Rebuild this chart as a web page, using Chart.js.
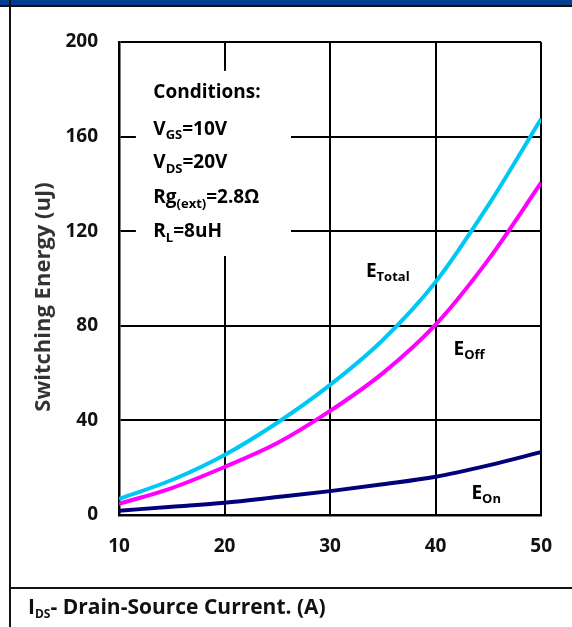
<!DOCTYPE html>
<html>
<head>
<meta charset="utf-8">
<script src="https://cdn.jsdelivr.net/npm/chart.js@4/dist/chart.umd.min.js"></script>
<style>
  html, body { margin: 0; padding: 0; background: #fff; }
  body { width: 572px; height: 627px; position: relative; overflow: hidden; }
  #topbar { position: absolute; left: 0; top: 0; width: 572px; height: 5px; background: #003f8f; border-bottom: 2px solid #111; }
  #leftline { position: absolute; left: 9px; top: 0; width: 2px; height: 627px; background: #111; }
  #sep { position: absolute; left: 9px; top: 587px; width: 563px; height: 2px; background: #111; }
  #wrap { position: absolute; left: 0; top: 0; width: 572px; height: 627px; }
</style>
</head>
<body>
<div id="topbar"></div>
<div id="leftline"></div>
<div id="sep"></div>
<div id="wrap"><canvas id="c" width="572" height="627"></canvas></div>
<script>
// ---- data ----
const currentA = [10, 15, 20, 25, 30, 35, 40, 45, 50];
const eTotal   = [6.8, 14.8, 25.4, 39, 55, 74, 98.5, 131, 167.5];
const eOff     = [4.7, 11.4, 20.3, 30.4, 44, 60, 80.5, 108, 140.5];
const eOn      = [1.8, 3.5, 5.2, 7.6, 10.1, 13, 16.2, 21, 26.6];
const xTicks   = [10, 20, 30, 40, 50];
const yTicks   = [0, 40, 80, 120, 160, 200];
const seriesNames = ['ETotal', 'EOff', 'EOn'];

const FONT = '"Open Sans", "Noto Sans", sans-serif';

function drawRich(ctx, parts, x, y, size, subSize, color) {
  ctx.save();
  ctx.fillStyle = color || '#000';
  ctx.textBaseline = 'middle';
  ctx.textAlign = 'left';
  let cx = x;
  for (const p of parts) {
    if (p.sub) {
      ctx.font = 'bold ' + subSize + 'px ' + FONT;
      ctx.fillText(p.t, cx, y + size * 0.33);
    } else {
      ctx.font = 'bold ' + size + 'px ' + FONT;
      ctx.fillText(p.t, cx, y);
    }
    cx += ctx.measureText(p.t).width;
  }
  ctx.restore();
}

const boxPlugin = {
  id: 'condBox',
  beforeDatasetsDraw(chart) {
    const { ctx, scales: { x, y } } = chart;
    const x0 = x.getPixelForValue(11.6), x1 = x.getPixelForValue(26.3);
    const y0 = y.getPixelForValue(187.8), y1 = y.getPixelForValue(109.5);
    ctx.save();
    ctx.fillStyle = '#fff';
    ctx.fillRect(x0, y0, x1 - x0, y1 - y0);
    ctx.restore();
  },
  afterDraw(chart) {
    const { ctx, scales: { x, y } } = chart;
    const lx = x.getPixelForValue(13.25);
    const S = 19, SS = 13;
    drawRich(ctx, [{t: 'Conditions:'}], lx, y.getPixelForValue(178.4), S, SS, '#000');
    drawRich(ctx, [{t: 'V'}, {t: 'GS', sub: true}, {t: '=10V'}], lx, y.getPixelForValue(163), S, SS, '#000');
    drawRich(ctx, [{t: 'V'}, {t: 'DS', sub: true}, {t: '=20V'}], lx, y.getPixelForValue(148.8), S, SS, '#000');
    drawRich(ctx, [{t: 'Rg'}, {t: '(ext)', sub: true}, {t: '=2.8Ω'}], lx, y.getPixelForValue(134), S, SS, '#000');
    drawRich(ctx, [{t: 'R'}, {t: 'L', sub: true}, {t: '=8uH'}], lx, y.getPixelForValue(119.7), S, SS, '#000');

    drawRich(ctx, [{t: 'E'}, {t: 'Total', sub: true}], x.getPixelForValue(33.4), y.getPixelForValue(103), S, SS, '#000');
    drawRich(ctx, [{t: 'E'}, {t: 'Off', sub: true}], x.getPixelForValue(41.7), y.getPixelForValue(70), S, SS, '#000');
    drawRich(ctx, [{t: 'E'}, {t: 'On', sub: true}], x.getPixelForValue(43.4), y.getPixelForValue(9.2), S, SS, '#000');

    // axis titles
    ctx.save();
    ctx.translate(44, 297);
    ctx.rotate(-Math.PI / 2);
    ctx.fillStyle = '#333';
    ctx.font = 'bold 22px ' + FONT;
    ctx.textAlign = 'center';
    ctx.textBaseline = 'middle';
    ctx.fillText('Switching Energy (uJ)', 0, 0);
    ctx.restore();

    drawRich(ctx, [{t: 'I'}, {t: 'DS', sub: true}, {t: '- Drain-Source Current. (A)'}], 28, 608, 21, 12, '#111');
  }
};

new Chart(document.getElementById('c'), {
  type: 'line',
  data: {
    datasets: [
      { label: seriesNames[0], data: currentA.map((v, i) => ({x: v, y: eTotal[i]})), borderColor: '#00c8f4', borderWidth: 4 },
      { label: seriesNames[1], data: currentA.map((v, i) => ({x: v, y: eOff[i]})), borderColor: '#ff00ff', borderWidth: 4 },
      { label: seriesNames[2], data: currentA.map((v, i) => ({x: v, y: eOn[i]})), borderColor: '#00007a', borderWidth: 4 }
    ]
  },
  options: {
    responsive: false,
    animation: false,
    devicePixelRatio: 1,
    layout: { padding: { top: 42, right: 30, left: 0, bottom: 0 } },
    elements: { point: { radius: 0 }, line: { cubicInterpolationMode: 'monotone', borderCapStyle: 'butt' } },
    plugins: { legend: { display: false }, tooltip: { enabled: false } },
    scales: {
      x: {
        type: 'linear', min: 10, max: 50,
        afterBuildTicks(s) { s.ticks = xTicks.map(v => ({value: v})); },
        afterFit(s) { s.height = 112; },
        grid: { color: '#000', lineWidth: 2, drawTicks: false },
        border: { color: '#000', width: 2.5 },
        ticks: { color: '#111', padding: 20, font: { family: FONT, size: 19, weight: 'bold' } }
      },
      y: {
        min: 0, max: 200,
        afterBuildTicks(s) { s.ticks = yTicks.map(v => ({value: v})); },
        afterFit(s) { s.width = 119; },
        grid: { color: '#000', lineWidth: 2, drawTicks: false },
        border: { color: '#000', width: 2.5 },
        ticks: { color: '#111', padding: 21, font: { family: FONT, size: 19, weight: 'bold' } }
      }
    }
  },
  plugins: [boxPlugin]
});
</script>
</body>
</html>
